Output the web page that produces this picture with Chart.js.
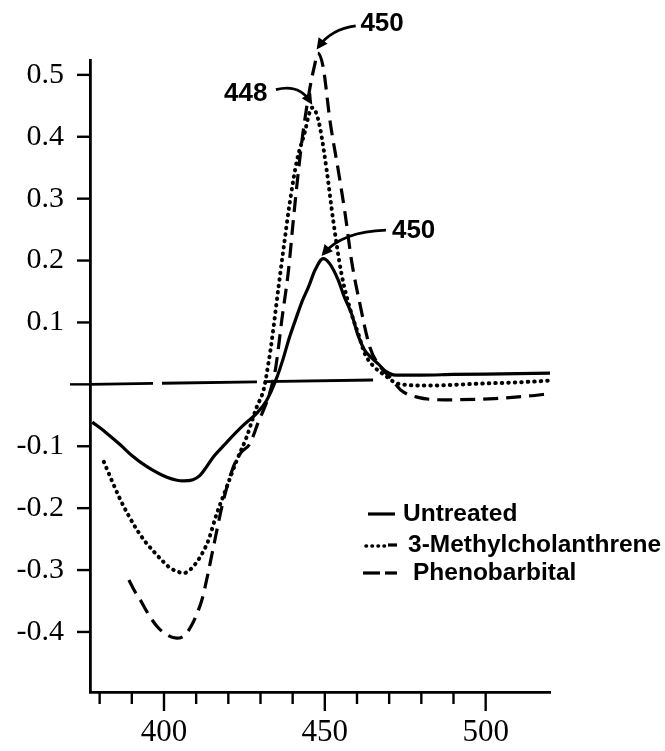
<!DOCTYPE html>
<html lang="en">
<head>
    <meta charset="UTF-8">
    <title>Difference spectra</title>
    <script src="https://cdn.jsdelivr.net/npm/chart.js"></script>
    <style>
        html, body { margin: 0; padding: 0; background: #fff; }
        #wrap { width: 665px; height: 751px; position: relative; }
    </style>
</head>
<body>
    <div id="wrap"><canvas id="chart"></canvas></div>
    <script>
        // wavelength (nm) / absorbance difference
        const untreatedNm  = [377.7, 382, 386.5, 390, 394.7, 400.9, 406, 409, 411.2, 413, 415.4, 418, 420.5, 424.7, 428.8, 431.9, 435, 437.2, 438.7, 440.8, 443, 444.9, 447, 449.5, 451.5, 454.2, 456, 458.3, 460.4, 462.4, 464.5, 466.6, 469, 472, 480, 490, 505, 520];
        const untreatedAbs = [-0.061, -0.078, -0.098, -0.115, -0.133, -0.150, -0.156, -0.154, -0.147, -0.135, -0.117, -0.102, -0.088, -0.066, -0.047, -0.026, 0.010, 0.044, 0.071, 0.103, 0.135, 0.157, 0.185, 0.203, 0.195, 0.168, 0.142, 0.114, 0.078, 0.055, 0.043, 0.033, 0.021, 0.015, 0.015, 0.016, 0.017, 0.018];

        const mcNm  = [381.3, 384, 386.5, 389, 391.6, 394, 396.8, 399.5, 402, 404, 406.1, 408, 410.2, 412, 413.8, 416.4, 419.5, 422.6, 425.7, 427.3, 428.8, 431, 432.5, 433.5, 435.6, 437.2, 439.2, 441.3, 443.9, 445, 446.1, 447.2, 448.5, 450.6, 452.6, 455.2, 458.3, 460.5, 462.4, 465, 468.6, 472.8, 482, 497.5, 513, 519.7];
        const mcAbs = [-0.125, -0.158, -0.187, -0.212, -0.235, -0.253, -0.270, -0.285, -0.297, -0.302, -0.305, -0.300, -0.287, -0.272, -0.252, -0.209, -0.166, -0.123, -0.085, -0.060, -0.037, -0.008, 0.035, 0.070, 0.157, 0.221, 0.297, 0.361, 0.410, 0.435, 0.447, 0.440, 0.415, 0.345, 0.265, 0.178, 0.114, 0.080, 0.050, 0.030, 0.015, 0.001, -0.002, 0.001, 0.004, 0.006];

        const pbNm  = [389.1, 391, 392.6, 395, 398, 401, 404, 406.5, 408.5, 410.3, 411.8, 413.5, 415.4, 418.5, 421.6, 424, 426.7, 429.4, 430.9, 432.5, 434.6, 435.6, 436.6, 438.7, 440.2, 441.8, 443.3, 445.4, 446.8, 447.8, 449.5, 451.6, 454.2, 456.3, 458.3, 460.9, 464, 467, 470.7, 473.8, 479, 487.2, 502.7, 513, 520.2];
        const pbAbs = [-0.316, -0.335, -0.348, -0.370, -0.392, -0.405, -0.410, -0.405, -0.390, -0.370, -0.348, -0.310, -0.262, -0.187, -0.133, -0.110, -0.096, -0.060, -0.042, -0.020, 0.023, 0.060, 0.103, 0.184, 0.265, 0.345, 0.410, 0.480, 0.515, 0.535, 0.512, 0.426, 0.345, 0.276, 0.200, 0.130, 0.060, 0.030, 0.009, -0.010, -0.021, -0.025, -0.023, -0.019, -0.015];

        // zero reference line
        const baseNm  = [377, 465];
        const baseAbs = [0.0, 0.007];

        const xTicks = [380, 390, 400, 410, 420, 430, 440, 450, 460, 470, 480, 490, 500];
        const xLabels = [400, 450, 500];
        const yTicks = [-0.4, -0.3, -0.2, -0.1, 0, 0.1, 0.2, 0.3, 0.4, 0.5];

        const legendLabels = ["Untreated", "3-Methylcholanthrene", "Phenobarbital"];

        // peak annotations: text, text position, arrow start / bend / tip (data units)
        const peakText = ["450", "448", "450"];
        const peakTextPos = [[467.8, 0.582], [425.4, 0.469], [477.6, 0.248]];
        const peakArrows = [
            [[459.6, 0.579], [452.0, 0.574], [448.0, 0.545]],
            [[434.8, 0.476], [442.0, 0.486], [445.6, 0.456]],
            [[469.0, 0.249], [455.5, 0.247], [449.6, 0.211]]
        ];

        const pts = (xs, ys) => xs.map((x, i) => ({ x, y: ys[i] }));
        const serif = "'Liberation Serif', 'Times New Roman', serif";

        const decor = {
            id: "decor",
            afterDatasetsDraw(chart) {
                const ctx = chart.ctx;
                const xs = chart.scales.x, ys = chart.scales.y;
                const area = chart.chartArea;
                ctx.save();
                ctx.strokeStyle = "#000";
                ctx.fillStyle = "#000";
                ctx.lineCap = "butt";

                // axis tick marks
                ctx.lineWidth = 2.4;
                xTicks.forEach(v => {
                    const px = xs.getPixelForValue(v);
                    const len = xLabels.includes(v) ? 19 : 12;
                    ctx.beginPath();
                    ctx.moveTo(px, area.bottom);
                    ctx.lineTo(px, area.bottom + len);
                    ctx.stroke();
                });
                yTicks.forEach(v => {
                    const py = ys.getPixelForValue(v);
                    const len = v === 0 ? 20 : 13;
                    ctx.beginPath();
                    ctx.moveTo(area.left, py);
                    ctx.lineTo(area.left - len, py);
                    ctx.stroke();
                });

                // peak labels with curved arrows
                ctx.font = "bold 26px 'Liberation Sans', Arial, sans-serif";
                ctx.textAlign = "center";
                ctx.textBaseline = "middle";
                peakText.forEach((t, i) => {
                    ctx.fillText(t, xs.getPixelForValue(peakTextPos[i][0]), ys.getPixelForValue(peakTextPos[i][1]));
                    const p = peakArrows[i].map(q => [xs.getPixelForValue(q[0]), ys.getPixelForValue(q[1])]);
                    ctx.lineWidth = 2.8;
                    ctx.beginPath();
                    ctx.moveTo(p[0][0], p[0][1]);
                    ctx.quadraticCurveTo(p[1][0], p[1][1], p[2][0], p[2][1]);
                    ctx.stroke();
                    const ang = Math.atan2(p[2][1] - p[1][1], p[2][0] - p[1][0]);
                    const hl = 11, hw = 5.5;
                    const tx = p[2][0] + Math.cos(ang) * 3, ty = p[2][1] + Math.sin(ang) * 3;
                    ctx.beginPath();
                    ctx.moveTo(tx, ty);
                    ctx.lineTo(tx - hl * Math.cos(ang) + hw * Math.sin(ang), ty - hl * Math.sin(ang) - hw * Math.cos(ang));
                    ctx.lineTo(tx - hl * Math.cos(ang) - hw * Math.sin(ang), ty - hl * Math.sin(ang) + hw * Math.cos(ang));
                    ctx.closePath();
                    ctx.fill();
                });

                // legend
                const rows = [514, 545, 573];
                const textX = [403, 408, 413];
                ctx.lineWidth = 3.2;
                // solid
                ctx.beginPath(); ctx.moveTo(368, rows[0]); ctx.lineTo(395, rows[0]); ctx.stroke();
                // dotted + dash
                ctx.lineCap = "round";
                ctx.lineWidth = 3.6;
                ctx.setLineDash([0.5, 5.5]);
                ctx.beginPath(); ctx.moveTo(366, rows[1] + 1); ctx.lineTo(386, rows[1] + 1); ctx.stroke();
                ctx.setLineDash([]);
                ctx.lineCap = "butt";
                ctx.lineWidth = 3.2;
                ctx.beginPath(); ctx.moveTo(388, rows[1]); ctx.lineTo(397, rows[1]); ctx.stroke();
                // dashed
                ctx.beginPath(); ctx.moveTo(363, rows[2]); ctx.lineTo(380, rows[2]); ctx.stroke();
                ctx.beginPath(); ctx.moveTo(385, rows[2]); ctx.lineTo(397, rows[2]); ctx.stroke();

                ctx.font = "bold 24.5px 'Liberation Sans', Arial, sans-serif";
                ctx.textAlign = "left";
                legendLabels.forEach((t, i) => ctx.fillText(t, textX[i], rows[i]));
                ctx.restore();
            }
        };

        const ctx = document.getElementById("chart").getContext("2d");
        new Chart(ctx, {
            type: "line",
            data: {
                datasets: [
                    { label: "baseline", data: pts(baseNm, baseAbs), borderColor: "#000", borderWidth: 2.8,
                      borderDash: [63, 9, 95, 7, 1000, 0], pointRadius: 0, tension: 0, clip: false },
                    { label: legendLabels[0], data: pts(untreatedNm, untreatedAbs), borderColor: "#000", borderWidth: 3.2,
                      pointRadius: 0, cubicInterpolationMode: "monotone", clip: false },
                    { label: legendLabels[1], data: pts(mcNm, mcAbs), borderColor: "#000", borderWidth: 4,
                      borderDash: [0.5, 6], borderCapStyle: "round", pointRadius: 0, cubicInterpolationMode: "monotone", clip: false },
                    { label: legendLabels[2], data: pts(pbNm, pbAbs), borderColor: "#000", borderWidth: 3.2,
                      borderDash: [15, 8], pointRadius: 0, cubicInterpolationMode: "monotone", clip: false }
                ]
            },
            options: {
                responsive: true,
                maintainAspectRatio: false,
                animation: false,
                layout: { padding: { top: 60, right: 115, left: 0, bottom: 0 } },
                plugins: { legend: { display: false }, tooltip: { enabled: false } },
                scales: {
                    x: {
                        type: "linear",
                        min: 377,
                        max: 520,
                        afterBuildTicks: s => { s.ticks = xTicks.map(v => ({ value: v })); },
                        afterFit: s => { s.height = 59; },
                        grid: { display: false, drawTicks: false },
                        border: { display: true, color: "#000", width: 2.8 },
                        ticks: {
                            autoSkip: false,
                            maxRotation: 0,
                            padding: 22,
                            color: "#000",
                            font: { family: serif, size: 31 },
                            callback: v => xLabels.includes(v) ? String(v) : ""
                        }
                    },
                    y: {
                        min: -0.497,
                        max: 0.524,
                        afterBuildTicks: s => { s.ticks = yTicks.map(v => ({ value: v })); },
                        afterFit: s => { s.width = 90; },
                        grid: { display: false, drawTicks: false },
                        border: { display: true, color: "#000", width: 2.8 },
                        ticks: {
                            padding: 26,
                            color: "#000",
                            font: { family: serif, size: 30 },
                            callback: v => v === 0 ? "" : v.toFixed(1)
                        }
                    }
                }
            },
            plugins: [decor]
        });
    </script>
</body>
</html>
